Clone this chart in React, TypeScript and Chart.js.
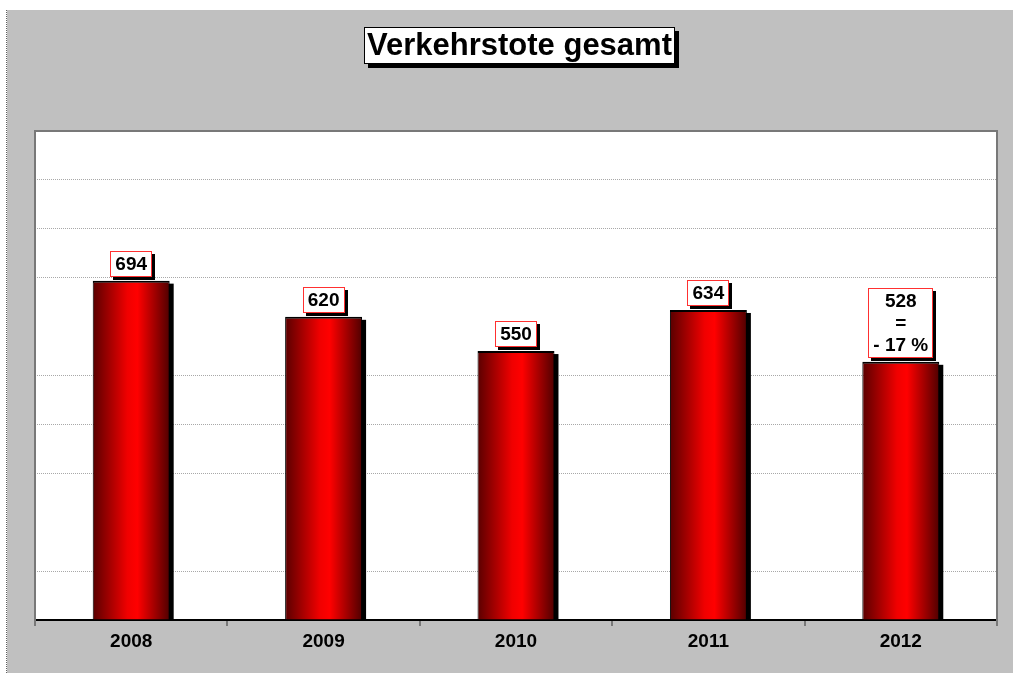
import React, { useEffect, useRef } from "react";
import { Chart, registerables } from "chart.js";

Chart.register(...registerables);

const titleText = "Verkehrstote gesamt";
const years = ["2008", "2009", "2010", "2011", "2012"];
const deaths = [694, 620, 550, 634, 528];
const labelLines = [["694"], ["620"], ["550"], ["634"], ["528", "=", "- 17 %"]];
const hiddenGridValues = [0, 200, 600, 1000];

const FONT = "'Liberation Sans', Arial, sans-serif";

export default function App() {
  const ref = useRef<HTMLCanvasElement | null>(null);

  useEffect(() => {
    const canvas = ref.current!;
    const decor = {
      id: "decor",
      beforeDraw(chart: any) {
        const { ctx, width, height, chartArea: a } = chart;
        ctx.save();
        ctx.fillStyle = "#ffffff";
        ctx.fillRect(0, 0, width, height);
        ctx.fillStyle = "#c0c0c0";
        ctx.fillRect(7, 10, width - 7, height - 10);
        ctx.strokeStyle = "#606060";
        ctx.lineWidth = 1;
        ctx.setLineDash([1, 1]);
        ctx.beginPath();
        ctx.moveTo(6.5, 10);
        ctx.lineTo(6.5, height);
        ctx.stroke();
        ctx.setLineDash([]);
        ctx.fillStyle = "#ffffff";
        ctx.fillRect(a.left, a.top, a.right - a.left, a.bottom - a.top);
        ctx.restore();
      },
      beforeDatasetsDraw(chart: any) {
        const { ctx, chartArea: a } = chart;
        ctx.save();
        ctx.strokeStyle = "#787878";
        ctx.lineWidth = 2;
        ctx.beginPath();
        ctx.moveTo(a.left, a.bottom + 6);
        ctx.lineTo(a.left, a.top);
        ctx.lineTo(a.right, a.top);
        ctx.lineTo(a.right, a.bottom + 6);
        ctx.stroke();
        // bar shadows
        const meta = chart.getDatasetMeta(0);
        ctx.fillStyle = "#000000";
        meta.data.forEach((el: any) => {
          const p = el.getProps(["x", "y", "base", "width"], true);
          ctx.fillRect(p.x - p.width / 2 + 4, p.y + 3, p.width, p.base - p.y - 3);
        });
        ctx.restore();
      },
      afterDatasetsDraw(chart: any) {
        const { ctx } = chart;
        const meta = chart.getDatasetMeta(0);
        ctx.save();
        ctx.font = `bold 19px ${FONT}`;
        ctx.textAlign = "center";
        ctx.textBaseline = "middle";
        meta.data.forEach((el: any, i: number) => {
          const p = el.getProps(["x", "y"], true);
          const lines = labelLines[i];
          const maxW = Math.max(...lines.map((l) => ctx.measureText(l).width));
          const bw = Math.round(maxW + 10);
          const lh = 22;
          const bh = lines.length * lh + 4;
          const bx = Math.round(p.x - bw / 2);
          const by = Math.round(p.y - 4 - bh);
          ctx.fillStyle = "#000";
          ctx.fillRect(bx + 3, by + 3, bw, bh);
          ctx.fillStyle = "#fff";
          ctx.fillRect(bx, by, bw, bh);
          ctx.strokeStyle = "#ff3030";
          ctx.lineWidth = 1;
          ctx.strokeRect(bx + 0.5, by + 0.5, bw - 1, bh - 1);
          ctx.fillStyle = "#000";
          lines.forEach((l, k) => {
            ctx.fillText(l, p.x, by + 2 + lh * k + lh / 2 + 1);
          });
        });
        ctx.restore();
      },
      afterDraw(chart: any) {
        const { ctx } = chart;
        ctx.save();
        const bx = 364, by = 27, bw = 311, bh = 37;
        ctx.fillStyle = "#000";
        ctx.fillRect(bx + 4, by + 4, bw, bh);
        ctx.fillStyle = "#fff";
        ctx.fillRect(bx, by, bw, bh);
        ctx.strokeStyle = "#000";
        ctx.lineWidth = 1;
        ctx.strokeRect(bx + 0.5, by + 0.5, bw - 1, bh - 1);
        ctx.fillStyle = "#000";
        ctx.font = `bold 31px ${FONT}`;
        ctx.textAlign = "center";
        ctx.textBaseline = "middle";
        ctx.fillText(titleText, bx + bw / 2, by + bh / 2 + 1);
        ctx.restore();
      },
    };

    const chart = new Chart(canvas, {
      type: "bar",
      data: {
        labels: years,
        datasets: [
          {
            data: deaths,
            backgroundColor: (c: any) => {
              const ch = c.chart;
              const xs = ch.scales?.x;
              if (!xs || c.type !== "data" || !xs.width) return "#ff0000";
              const cx = xs.getPixelForValue(c.dataIndex);
              const w = (xs.width / years.length) * 0.4;
              const g = ch.ctx.createLinearGradient(cx - w / 2, 0, cx + w / 2, 0);
              g.addColorStop(0, "#5a0000");
              g.addColorStop(0.45, "#f00000");
              g.addColorStop(0.58, "#ff0000");
              g.addColorStop(1, "#500000");
              return g;
            },
            borderColor: "#000000",
            borderWidth: { top: 2, left: 1, right: 1, bottom: 0 },
            borderSkipped: false,
            categoryPercentage: 1,
            barPercentage: 0.4,
          },
        ],
      },
      options: {
        responsive: false,
        animation: false,
        layout: { padding: { left: 35, right: 16, top: 131, bottom: 0 } },
        plugins: {
          legend: { display: false },
          title: { display: false },
          tooltip: { enabled: false },
        },
        scales: {
          x: {
            afterFit: (s: any) => {
              s.height = 53;
            },
            grid: {
              drawOnChartArea: false,
              drawTicks: true,
              tickLength: 6,
              color: "#787878",
              lineWidth: 2,
            },
            border: { color: "#000000", width: 2 },
            ticks: {
              color: "#000000",
              padding: 4,
              font: { family: FONT, size: 19, weight: "bold" },
            },
          },
          y: {
            min: 0,
            max: 1000,
            afterFit: (s: any) => {
              s.width = 0;
            },
            ticks: { display: false, stepSize: 100 },
            grid: {
              drawTicks: false,
              color: (c: any) =>
                hiddenGridValues.includes(c.tick?.value) ? "rgba(0,0,0,0)" : "#a8a8a8",
              lineWidth: 1,
            },
            border: { display: false, dash: [1, 1] },
          },
        },
      },
      plugins: [decor],
    });
    return () => chart.destroy();
  }, []);

  return (
    <div style={{ position: "fixed", left: 0, top: 0, width: 1013, height: 673 }}>
      <canvas ref={ref} width={1013} height={673} style={{ display: "block" }} />
    </div>
  );
}
